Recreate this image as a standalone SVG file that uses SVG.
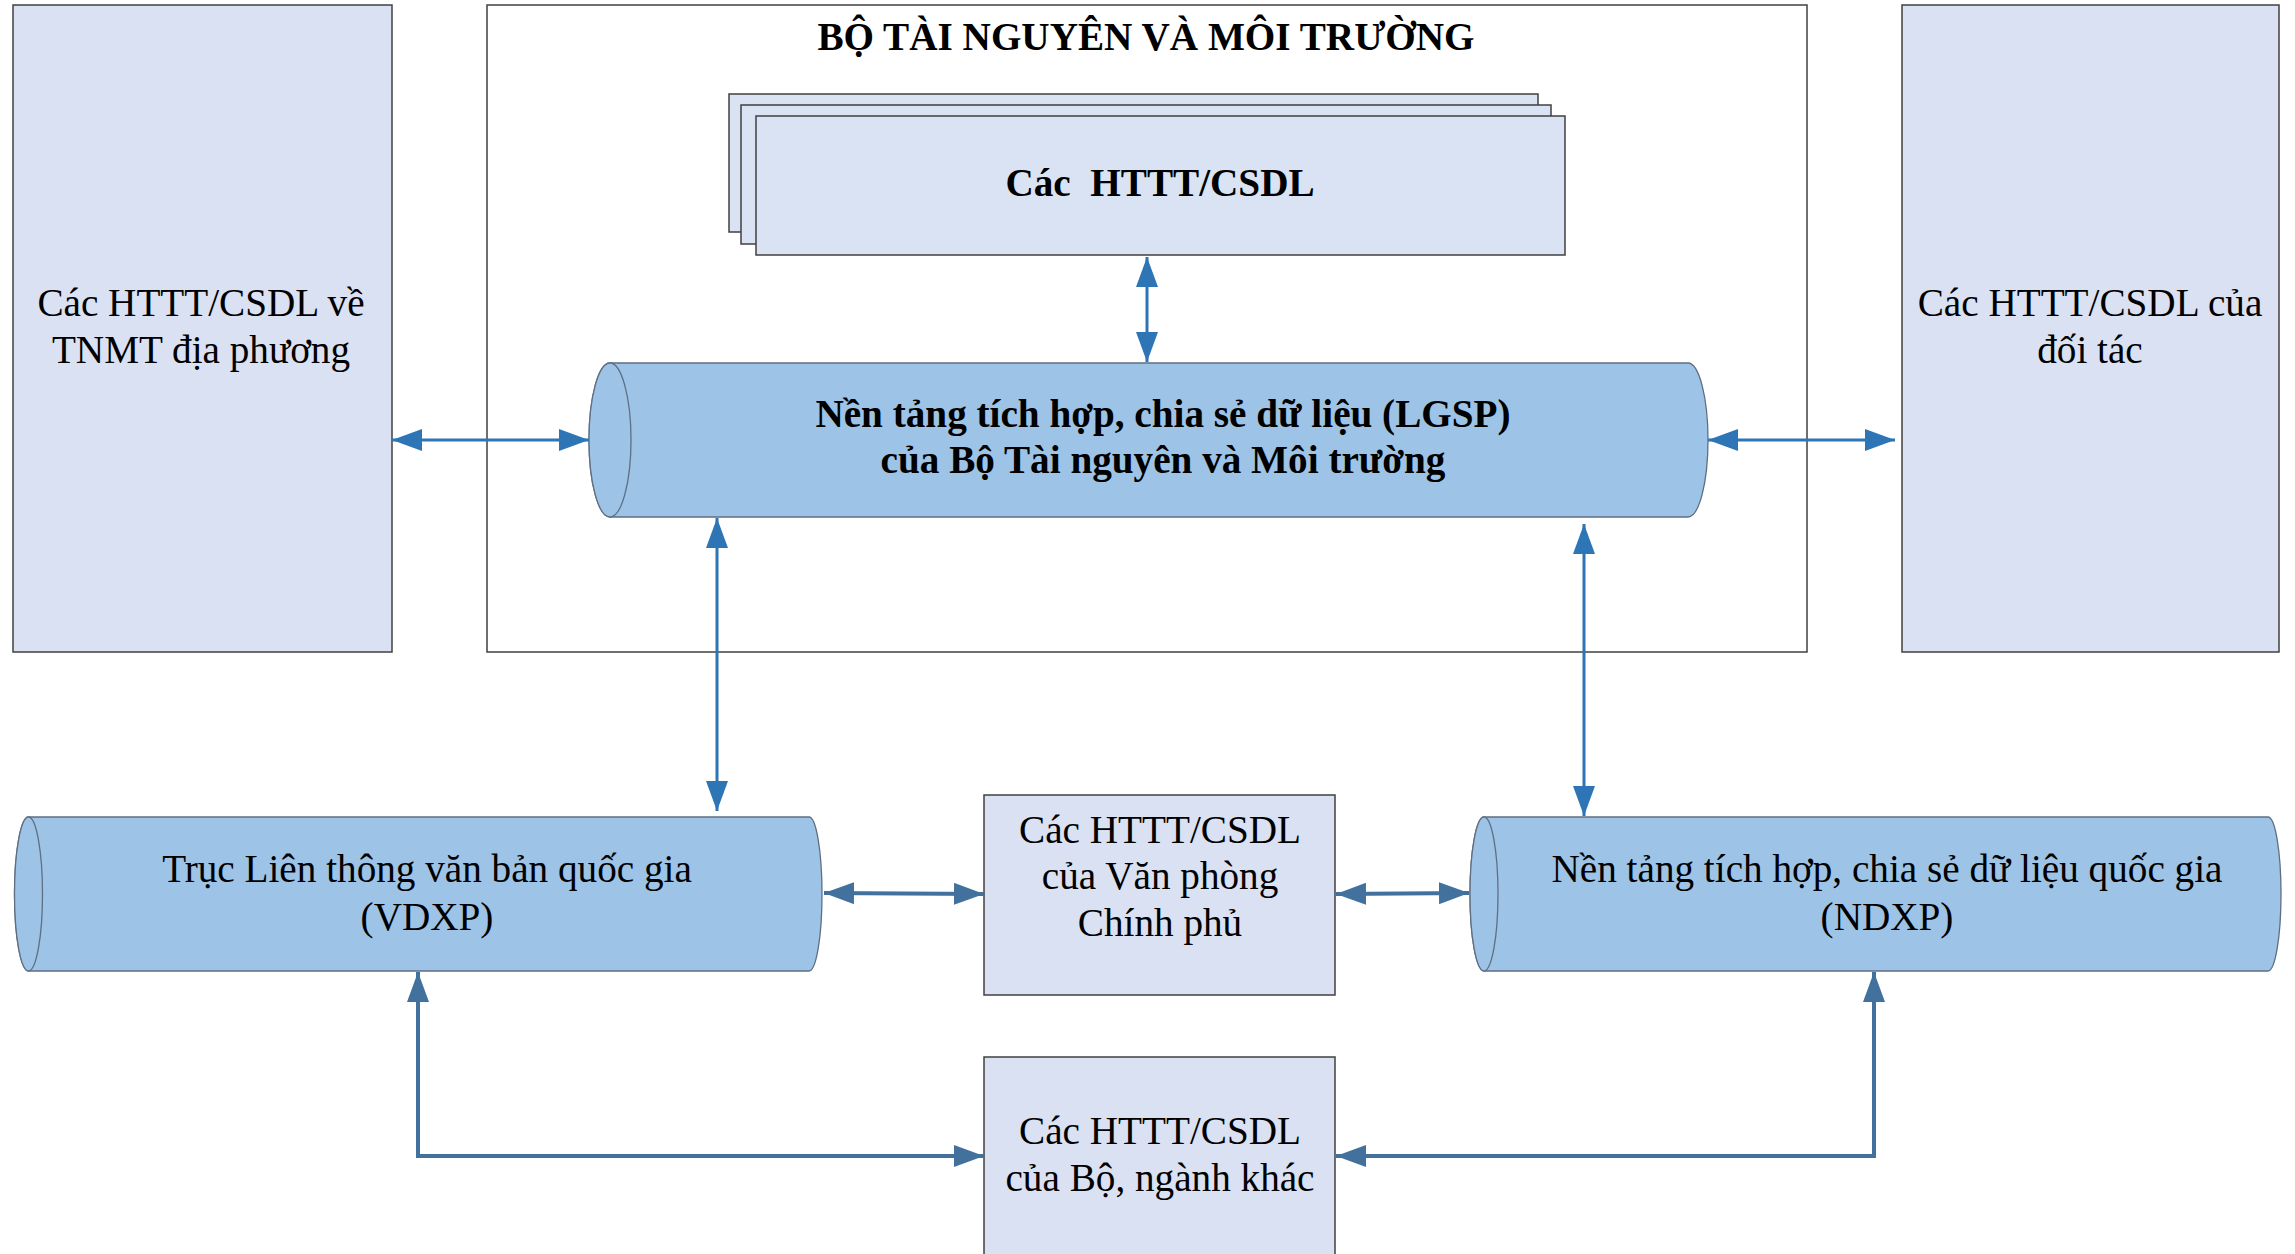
<svg xmlns="http://www.w3.org/2000/svg" width="2295" height="1254" viewBox="0 0 2295 1254">
<style>
.t{font-family:"Liberation Serif","Times New Roman",serif;font-size:39.2px;fill:#000;text-anchor:middle}
.b{font-weight:bold}
.box{fill:#dae1f3;stroke:#404040;stroke-width:1.5}
.stk{fill:#dae3f3;stroke:#404040;stroke-width:1.5}
.cyl{fill:#9dc3e6;stroke:#5f6f82;stroke-width:1.3}
.c1{fill:none;stroke:#2e75b6;stroke-width:3}
.c2{fill:none;stroke:#41719c;stroke-width:4}
</style>
<defs>
<marker id="a1" markerUnits="userSpaceOnUse" markerWidth="30" markerHeight="22" refX="30" refY="11" orient="auto-start-reverse" viewBox="0 0 30 22"><path d="M0,0 L30,11 L0,22 z" fill="#2e75b6"/></marker>
<marker id="a2" markerUnits="userSpaceOnUse" markerWidth="30" markerHeight="22" refX="30" refY="11" orient="auto-start-reverse" viewBox="0 0 30 22"><path d="M0,0 L30,11 L0,22 z" fill="#41719c"/></marker>
</defs>
<rect width="2295" height="1254" fill="#fff"/>
<g id="bo-tnmt">
<rect x="487" y="5" width="1320" height="647" fill="#fff" stroke="#404040" stroke-width="1.5"/>
<text class="t b" x="1146" y="50">BỘ TÀI NGUYÊN VÀ MÔI TRƯỜNG</text>
</g>
<g id="local">
<rect class="box" x="13" y="5" width="379" height="647"/>
<text class="t" x="201" y="316">Các HTTT/CSDL về</text>
<text class="t" x="201" y="363">TNMT địa phương</text>
</g>
<g id="partner">
<rect class="box" x="1902" y="5" width="377" height="647"/>
<text class="t" x="2090" y="316">Các HTTT/CSDL của</text>
<text class="t" x="2090" y="363">đối tác</text>
</g>
<g id="httt-stack">
<rect class="stk" x="729" y="94" width="809" height="138"/>
<rect class="stk" x="741" y="105" width="810" height="139"/>
<rect class="stk" x="756" y="116" width="809" height="139"/>
<text class="t b" x="1160" y="196" style="white-space:pre">Các  HTTT/CSDL</text>
</g>
<g id="lgsp">
<path class="cyl" d="M610,363 H1688 A20,77 0 0 1 1688,517 H610 A21,77 0 0 1 610,363 z"/>
<ellipse class="cyl" cx="610" cy="440" rx="21" ry="77"/>
<text class="t b" x="1163" y="427">Nền tảng tích hợp, chia sẻ dữ liệu (LGSP)</text>
<text class="t b" x="1163" y="473">của Bộ Tài nguyên và Môi trường</text>
</g>
<g id="vdxp">
<path class="cyl" d="M28.5,817 H809 A13,77 0 0 1 809,971 H28.5 A14,77 0 0 1 28.5,817 z"/>
<ellipse class="cyl" cx="28.5" cy="894" rx="14" ry="77"/>
<text class="t" x="427" y="882">Trục Liên thông văn bản quốc gia</text>
<text class="t" x="427" y="930">(VDXP)</text>
</g>
<g id="vpcp">
<rect class="box" x="984" y="795" width="351" height="200"/>
<text class="t" x="1160" y="843">Các HTTT/CSDL</text>
<text class="t" x="1160" y="889">của Văn phòng</text>
<text class="t" x="1160" y="936">Chính phủ</text>
</g>
<g id="ndxp">
<path class="cyl" d="M1484,817 H2268 A13,77 0 0 1 2268,971 H1484 A14,77 0 0 1 1484,817 z"/>
<ellipse class="cyl" cx="1484" cy="894" rx="14" ry="77"/>
<text class="t" x="1887" y="882">Nền tảng tích hợp, chia sẻ dữ liệu quốc gia</text>
<text class="t" x="1887" y="930">(NDXP)</text>
</g>
<g id="bo-nganh">
<rect class="box" x="984" y="1057" width="351" height="210"/>
<text class="t" x="1160" y="1144">Các HTTT/CSDL</text>
<text class="t" x="1160" y="1191">của Bộ, ngành khác</text>
</g>
<g id="connectors">
<line class="c1" x1="1147" y1="257" x2="1147" y2="362" marker-start="url(#a1)" marker-end="url(#a1)"/>
<line class="c1" x1="392" y1="440" x2="589" y2="440" marker-start="url(#a1)" marker-end="url(#a1)"/>
<line class="c1" x1="1708" y1="440" x2="1895" y2="440" marker-start="url(#a1)" marker-end="url(#a1)"/>
<line class="c1" x1="717" y1="518" x2="717" y2="811" marker-start="url(#a1)" marker-end="url(#a1)"/>
<line class="c1" x1="1584" y1="524" x2="1584" y2="816" marker-start="url(#a1)" marker-end="url(#a1)"/>
<line class="c2" x1="824" y1="893" x2="984" y2="894" marker-start="url(#a2)" marker-end="url(#a2)"/>
<line class="c2" x1="1336" y1="894" x2="1469" y2="893" marker-start="url(#a2)" marker-end="url(#a2)"/>
<polyline class="c2" points="418,972 418,1156 984,1156" marker-start="url(#a2)" marker-end="url(#a2)"/>
<polyline class="c2" points="1874,972 1874,1156 1336,1156" marker-start="url(#a2)" marker-end="url(#a2)"/>
</g>
</svg>
